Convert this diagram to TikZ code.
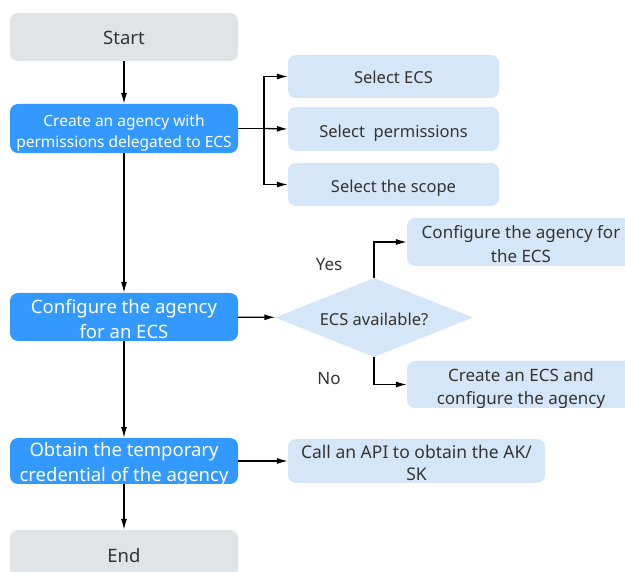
\documentclass[tikz,border=0pt]{standalone}
\usepackage{fontspec}
\setmainfont{Noto Sans}
\usetikzlibrary{shapes.geometric,arrows.meta}

\definecolor{flowblue}{RGB}{51,153,255}
\definecolor{flowlight}{RGB}{213,230,249}
\definecolor{flowgray}{RGB}{225,227,230}
\definecolor{flowtext}{RGB}{51,51,51}

\begin{document}
\begin{tikzpicture}[x=1pt,y=-1pt,
                    base/.style={rounded corners=8pt,minimum width=228pt,inner sep=0pt,align=center},
                    term/.style={base,fill=flowgray,text=flowtext,minimum height=48pt,font=\fontsize{18.5}{24}\selectfont},
                    act/.style={base,fill=flowblue,text=white,font=\fontsize{18.5}{25}\selectfont},
                    sub/.style={base,fill=flowlight,text=flowtext,font=\fontsize{16.5}{24}\selectfont},
                    ask/.style={diamond,aspect=2.5,fill=flowlight,text=flowtext,minimum width=198pt,minimum height=79pt,inner sep=0pt,font=\fontsize{16.5}{24}\selectfont},
                    lbl/.style={text=flowtext,inner sep=0pt,font=\fontsize{17}{24}\selectfont},
                    tx/.style={text height=#1pt,text depth=0pt},
                    arr/.style={-{Latex[length=11pt,width=6pt]},line width=1.3pt,black}]
                  \useasboundingbox (0,0) rectangle (625,572);

                  \node[term,tx=15.2] (start) at (124,37) {Start};
                  \node[act,minimum height=49pt,font=\fontsize{15.5}{21.5}\selectfont,tx=39] (create) at (124,128.5) {Create an agency with\\permissions delegated to ECS};
                  \node[sub,minimum width=211pt,minimum height=43pt,tx=14.8] (selecs) at (393.5,76.5) {Select ECS};
                  \node[sub,minimum width=211pt,minimum height=44pt,tx=16.8] (selperm) at (393.5,129) {Select~~permissions};
                  \node[sub,minimum width=211pt,minimum height=43pt,tx=15.8] (selscope) at (393.5,184.5) {Select the scope};
                  \node[act,minimum height=48pt,tx=42.2] (config) at (124,317) {Configure the agency\\for an ECS};
                  \node[ask,tx=15.8] (avail) at (374,317.5) {ECS available?};
                  \node[sub,minimum height=48pt,font=\fontsize{17}{23.5}\selectfont,tx=40.1] (yesbox) at (521,242) {Configure the agency for\\the ECS};
                  \node[sub,minimum height=47pt,font=\fontsize{17}{23}\selectfont,tx=39.1] (nobox) at (521,384.5) {Create an ECS and\\configure the agency};
                  \node[lbl,tx=11.8] (yes) at (329,265) {Yes};
                  \node[lbl,tx=11.8] (no) at (329,378.3) {No};
                  \node[act,minimum height=46pt,tx=40.2] (obtain) at (124,461) {Obtain the temporary\\credential of the agency};
                  \node[sub,minimum width=257pt,minimum height=44pt,font=\fontsize{17.5}{22.5}\selectfont,tx=39.5] (api) at (416.5,461) {Call an API to obtain the AK/\\SK};
                  \node[term,tx=17.2] (end) at (124,554) {End};

                  \coordinate (fork) at (264,128.5);
                  \draw[arr] (start) -- (create);
                  \draw[line width=1.3pt] (create.east) -- (fork);
                  \draw[arr] (fork) |- (selecs.west);
                  \draw[arr] (fork) -- (selperm.west);
                  \draw[arr] (fork) |- (selscope.west);
                  \draw[arr] (create) -- (config);
                  \draw[arr] (config) -- (avail);
                  \draw[arr] (avail.north) |- (yesbox.west);
                  \draw[arr] (avail.south) |- (nobox.west);
                  \draw[arr] (config) -- (obtain);
                  \draw[arr] (obtain) -- (api);
                  \draw[arr] (obtain) -- (end);
              \end{tikzpicture}
\end{document}
